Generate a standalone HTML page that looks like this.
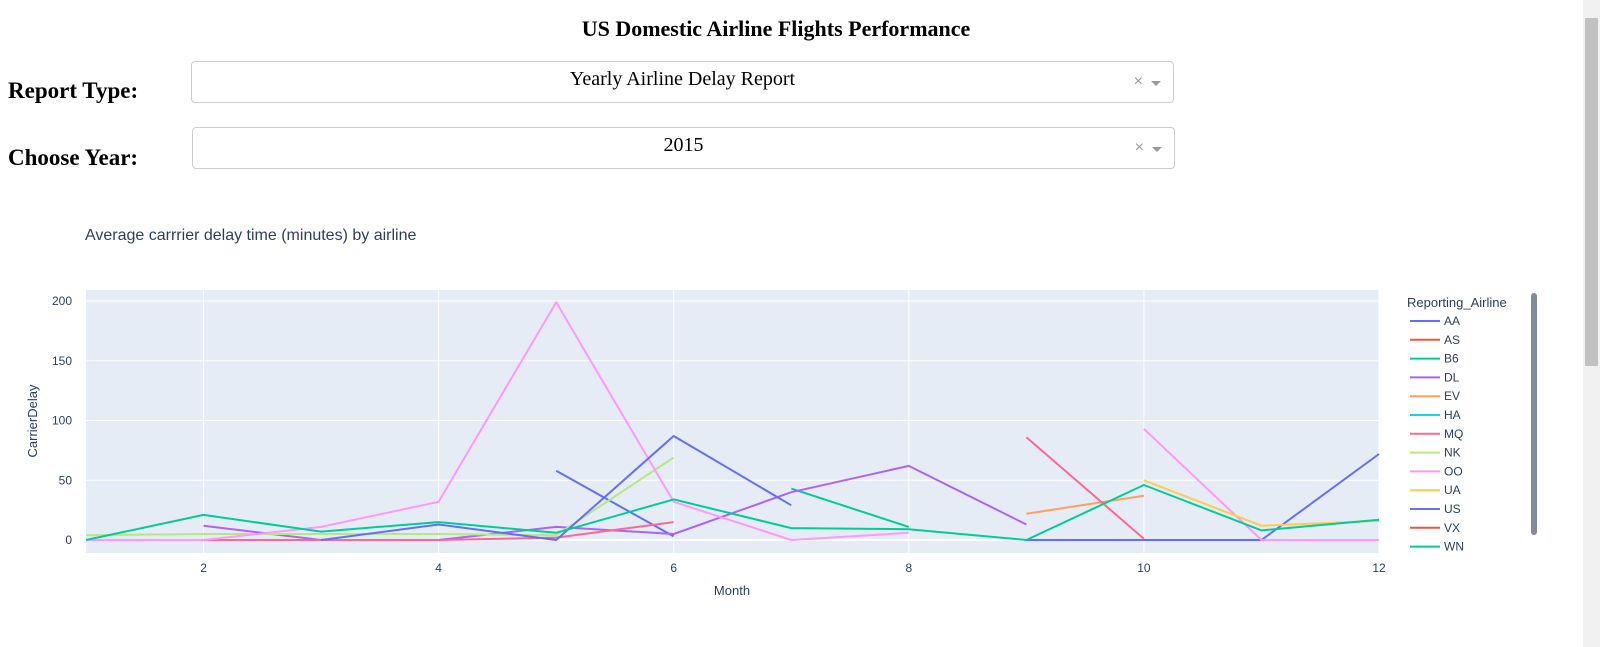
<!DOCTYPE html>
<html><head><meta charset="utf-8"><style>
body{margin:0;width:1600px;height:647px;overflow:hidden;background:#fff;position:relative;font-family:"Liberation Serif",serif}
.abs{position:absolute}
h1{position:absolute;left:0;width:1552px;top:16px;margin:0;text-align:center;font-size:22px;font-weight:bold}
.lbl{position:absolute;left:8px;font-size:23px;font-weight:bold}
.dd{position:absolute;border:1px solid #ccc;border-radius:4px;height:40px;background:#fff;font-size:20px;text-align:center;line-height:34px}
.dd .x{position:absolute;right:30px;top:3px;color:#999;font-size:16px;font-family:"Liberation Sans",sans-serif}
.dd .car{position:absolute;right:12px;top:19px;width:0;height:0;border-left:5px solid transparent;border-right:5px solid transparent;border-top:5px solid #999}
svg text{font-family:"Liberation Sans","DejaVu Sans",sans-serif}
</style></head><body>
<h1>US Domestic Airline Flights Performance</h1>
<div class="lbl" style="top:78px">Report Type:</div>
<div class="dd" style="left:191px;top:61px;width:981px">Yearly Airline Delay Report<span class="x">×</span><span class="car"></span></div>
<div class="lbl" style="top:145px">Choose Year:</div>
<div class="dd" style="left:192px;top:127px;width:981px">2015<span class="x">×</span><span class="car"></span></div>
<div class="abs" style="left:1583px;top:0;width:17px;height:647px;background:#f1f1f1"><div style="position:absolute;left:2px;top:18px;width:13px;height:348px;background:#c1c1c1"></div></div>
<svg class="abs" style="left:0;top:200px" width="1580" height="420" id="chart">
<text x="85" y="40" font-size="16" fill="#2a3f5f">Average carrrier delay time (minutes) by airline</text>
<rect x="86" y="90" width="1293" height="263" fill="#e5ecf6"/>
<g id="grid"></g><g id="lines"></g><g id="legend"></g>
<text x="732" y="395" font-size="13" fill="#2a3f5f" text-anchor="middle">Month</text>
<text transform="translate(37,221) rotate(-90)" font-size="13" fill="#2a3f5f" text-anchor="middle">CarrierDelay</text>
<rect x="1531" y="93" width="6" height="242" rx="3" fill="#808b9f"/>
</svg>
<script>
const months=[1,2,3,4,5,6,7,8,9,10,11,12];
const xTicks=[2,4,6,8,10,12];
const yTicks=[0,50,100,150,200];
const airlines=["AA","AS","B6","DL","EV","HA","MQ","NK","OO","UA","US","VX","WN"];
const colors=["#636efa","#EF553B","#00cc96","#ab63fa","#FFA15A","#19d3f3","#FF6692","#B6E880","#FF97FF","#FECB52","#636efa","#EF553B","#00cc96"];
const N=null;
const AA=[N,N,N,N,58,3,N,N,0,0,0,72];
const AS=[N,N,N,N,N,N,N,N,N,N,N,N];
const B6=[N,N,N,N,N,N,43,11,N,N,N,N];
const DL=[N,12,0,0,11,5,40,62,13,N,N,N];
const EV=[N,N,N,N,N,N,N,N,22,37,N,N];
const HA=[N,N,N,N,N,N,N,N,N,N,N,N];
const MQ=[N,0,0,0,2,15,N,N,86,1,N,N];
const NK=[4,5,5,5,4,69,N,N,N,N,N,N];
const OO=[0,0,11,32,199,32,0,6,N,93,0,0];
const UA=[N,N,N,N,N,N,N,N,N,50,12,16];
const US=[N,N,0,13,0,87,29,N,N,N,N,N];
const VX=[N,N,N,N,N,N,N,N,N,N,N,N];
const WN=[0,21,7,15,6,34,10,9,0,46,8,17];
const series=[AA,AS,B6,DL,EV,HA,MQ,NK,OO,UA,US,VX,WN];
const X=m=>86+(m-1)*(1293/11);
const Y=v=>340-v*1.195;
const NS="http://www.w3.org/2000/svg";
function mk(t,a,p){const e=document.createElementNS(NS,t);for(const k in a)e.setAttribute(k,a[k]);p.appendChild(e);return e;}
const grid=document.getElementById('grid'),lines=document.getElementById('lines'),leg=document.getElementById('legend');
xTicks.forEach(t=>{
  const l=mk('line',{x1:X(t),x2:X(t),y1:90,y2:353,stroke:'#fff','stroke-width':1},grid);
  
  
  const tx=mk('text',{x:X(t),y:372,'font-size':12,fill:'#2a3f5f','text-anchor':'middle'},grid);tx.textContent=t;
  
  
});
yTicks.forEach(t=>{
  const l=mk('line',{x1:86,x2:1379,y1:Y(t),y2:Y(t),stroke:'#fff','stroke-width':t===0?2:1},grid);
  
  
  const tx=mk('text',{x:72,y:Y(t)+4,'font-size':12,fill:'#2a3f5f','text-anchor':'end'},grid);tx.textContent=t;
  
  
});
series.forEach((s,i)=>{
  let d='',pen=false;
  s.forEach((v,j)=>{if(v===null){pen=false;return;}d+=(pen?'L':'M')+X(months[j]).toFixed(1)+','+Y(v).toFixed(1);pen=true;});
  if(d){const p=mk('path',{d:d,fill:'none',stroke:colors[i],'stroke-width':2,'stroke-linejoin':'round'},lines);
  
  }
  const g=mk('g',{},leg);
  
  
  const y=121+i*18.8;
  mk('line',{x1:1410,x2:1440,y1:y,y2:y,stroke:colors[i],'stroke-width':2},g);
  const t=mk('text',{x:1444,y:y+4,'font-size':12,fill:'#2a3f5f'},g);t.textContent=airlines[i];
});
const lt=mk('text',{x:1407,y:107,'font-size':13,fill:'#2a3f5f'},leg);lt.textContent='Reporting_Airline';


</script>
</body></html>
